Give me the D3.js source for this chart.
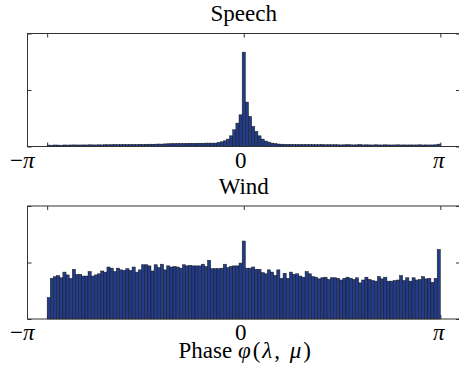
<!DOCTYPE html>
<html>
<head>
<meta charset="utf-8">
<script src="https://cdn.jsdelivr.net/npm/d3@7"></script>
<style>
  body { margin: 0; background: #fff; }
  svg { display: block; }
  text { font-family: "Liberation Serif", "Times New Roman", serif; font-size: 23px; fill: #000; }
</style>
</head>
<body>
<svg width="459" height="372"></svg>
<script>
// histogram heights, 125 bins over [-pi, pi]; units: mid y tick = 100
const speech = [
  2.5, 2.3, 2.7, 2.5, 2.3, 2.7, 2.5, 2.7, 2.8, 2.7,
  2.7, 2.8, 2.7, 3.0, 2.8, 2.8, 3.0, 2.8, 3.2, 3.0,
  3.2, 3.4, 3.2, 3.4, 3.5, 3.4, 3.5, 3.7, 3.5, 3.9,
  3.7, 3.9, 4.1, 3.9, 4.2, 4.4, 4.2, 4.6, 4.8, 5.0,
  5.1, 5.3, 5.3, 5.5, 5.5, 5.7, 5.7, 5.8, 5.8, 5.8,
  6.0, 6.0, 6.0, 6.0, 7.1, 8.3, 10.1, 13.1, 18.9, 29.6,
  41.4, 56.1, 167, 78.6, 53.1, 35.4, 26.6, 18.9, 13.1, 9.6,
  7.8, 6.0, 5.1, 4.4, 4.1, 3.9, 3.7, 3.7, 3.5, 3.5,
  3.5, 3.4, 3.4, 3.5, 3.4, 3.2, 3.2, 3.4, 3.0, 3.2,
  3.0, 3.2, 3.0, 2.8, 3.0, 3.2, 3.0, 2.8, 3.0, 3.5,
  2.8, 3.0, 2.8, 2.7, 3.0, 2.8, 2.7, 3.0, 2.8, 2.7,
  2.8, 3.0, 2.7, 2.8, 2.7, 2.8, 2.7, 2.8, 3.0, 2.7,
  2.8, 2.7, 2.8, 3.0, 4.2
];

const wind = [
  38, 72, 75, 77, 73, 83, 78, 72, 88, 79,
  79, 76, 76, 84, 76, 78, 80, 85, 83, 92,
  90, 84, 90, 87, 86, 89, 86, 92, 83, 87,
  96, 96, 94, 85, 96, 91, 97, 87, 94, 92,
  93, 92, 90, 96, 94, 95, 94, 94, 94, 97,
  93, 104, 89, 89, 89, 90, 97, 91, 93, 94,
  94, 99, 138, 90, 90, 92, 88, 88, 82, 80,
  87, 83, 77, 87, 72, 81, 72, 83, 79, 80,
  76, 74, 84, 80, 75, 74, 71, 73, 74, 70,
  73, 73, 72, 69, 72, 74, 72, 70, 73, 64,
  69, 74, 70, 68, 67, 75, 71, 74, 67, 67,
  68, 69, 77, 68, 73, 67, 73, 69, 70, 75,
  71, 72, 65, 72, 123
];

const panelTitles = ['Speech', 'Wind'];
const xTickValues = [-Math.PI, 0, Math.PI];
const xTickLabels = ['\u2212\u03C0', '0', '\u03C0'];
const xTickShift = [-25, -3, -1.5];
const yTickValues = [0, 100, 200];
const xAxisLabel = 'Phase \u03C6(\u03BB, \u03BC)';

const svg = d3.select('svg');

const left = 27.5, right = 460;
const x = d3.scaleLinear()
  .domain([-1.1 * Math.PI, 1.1 * Math.PI])
  .range([left, right]);

const panels = [
  {title: panelTitles[0], values: speech, top: 33.5, bottom: 146.5},
  {title: panelTitles[1], values: wind, top: 206, bottom: 319}
];

// greek letters in italic, like TeX math; optional extra spacing for math
function mathText(sel, str, spacing) {
  sel.text(null);
  str.split(/([\u03B1-\u03C9])/).filter((s) => s.length).forEach((s) => {
    sel.append('tspan')
      .style('font-style', /[\u03B1-\u03C9]/.test(s) ? 'italic' : 'normal')
      .style('letter-spacing', spacing && /[\u03B1-\u03C9(),]/.test(s) ? spacing + 'px' : null)
      .text(s);
  });
}

panels.forEach((p) => {
  const y = d3.scaleLinear().domain([0, 200]).range([p.bottom, p.top]);
  const n = p.values.length;
  const edges = d3.range(n + 1).map((i) => -Math.PI + i * 2 * Math.PI / n);

  const g = svg.append('g');

  // inward ticks (drawn under the bars)
  const ticks = g.append('g').attr('class', 'ticks');
  ticks.append('g')
    .attr('transform', 'translate(0,' + p.bottom + ')')
    .call(d3.axisBottom(x).tickValues(xTickValues).tickSize(-4).tickFormat(''));
  ticks.append('g')
    .attr('transform', 'translate(0,' + p.top + ')')
    .call(d3.axisTop(x).tickValues(xTickValues).tickSize(-4).tickFormat(''));
  ticks.append('g')
    .attr('transform', 'translate(' + left + ',0)')
    .call(d3.axisLeft(y).tickValues(yTickValues).tickSize(-4).tickFormat(''));
  ticks.append('g')
    .attr('transform', 'translate(' + right + ',0)')
    .call(d3.axisRight(y).tickValues(yTickValues).tickSize(-4).tickFormat(''));
  ticks.selectAll('.domain').remove();
  ticks.selectAll('line').attr('stroke', '#333');

  // bars
  g.append('g')
    .selectAll('rect')
    .data(p.values)
    .enter().append('rect')
    .attr('x', (d, i) => x(edges[i]))
    .attr('width', (d, i) => x(edges[i + 1]) - x(edges[i]))
    .attr('y', (d) => y(d))
    .attr('height', (d) => y(0) - y(d))
    .attr('fill', '#233c8a')
    .attr('stroke', '#151515')
    .attr('stroke-width', 0.5);

  // box
  g.append('rect')
    .attr('x', left)
    .attr('y', p.top)
    .attr('width', right - left)
    .attr('height', p.bottom - p.top)
    .attr('fill', 'none')
    .attr('stroke', '#333')
    .attr('stroke-width', 1);

  // tick labels
  g.append('g')
    .selectAll('text')
    .data(xTickValues)
    .enter().append('text')
    .attr('x', (d, i) => x(d) + xTickShift[i])
    .attr('y', p.bottom + 21)
    .attr('text-anchor', 'middle')
    .each(function(d, i) { mathText(d3.select(this), xTickLabels[i]); });

  // title
  g.append('text')
    .attr('x', (left + right) / 2)
    .attr('y', p.top - 12.5)
    .attr('text-anchor', 'middle')
    .text(p.title);
});

svg.append('text')
  .attr('x', (left + right) / 2 + 2)
  .attr('y', 357.5)
  .attr('text-anchor', 'middle')
  .call(mathText, xAxisLabel, 2);
</script>
</body>
</html>
